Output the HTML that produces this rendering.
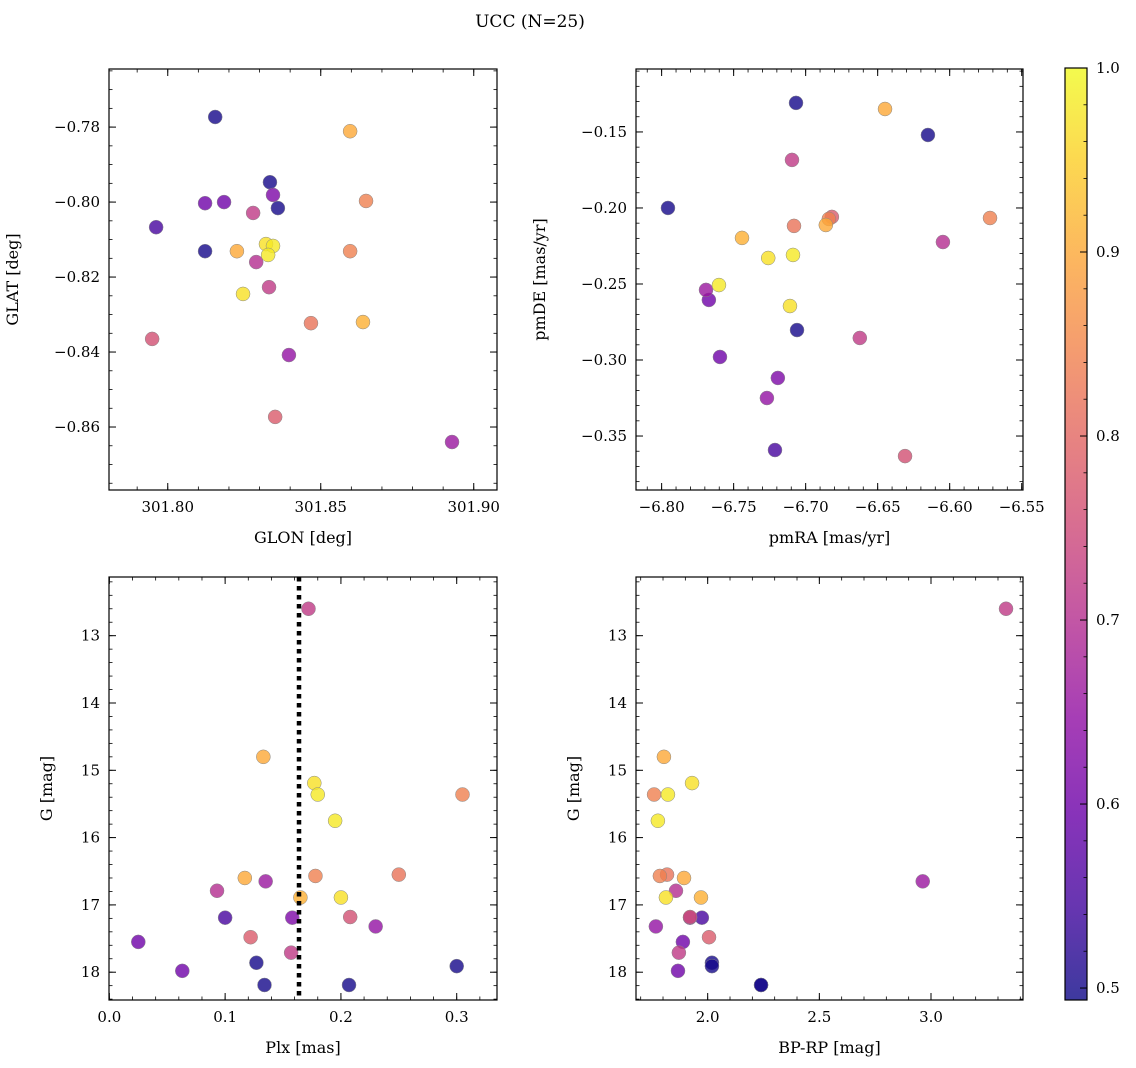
<!DOCTYPE html>
<html><head><meta charset="utf-8">
<style>
html,body{margin:0;padding:0;background:#fff;}
svg{display:block;font-family:"DejaVu Serif","Liberation Serif",serif;}
</style></head>
<body>
<svg id="fig" width="1136" height="1068" viewBox="0 0 1136 1068" xmlns="http://www.w3.org/2000/svg">
<text x="530" y="27" font-size="17" text-anchor="middle">UCC (N=25)</text>
</svg>
<script>
const glon=[301.8155,301.8334,301.8360,301.8122,301.7962,301.8122,301.8184,301.8344,301.8396,301.8929,301.8279,301.8289,301.8331,301.7949,301.8351,301.8648,301.8596,301.8468,301.8596,301.8226,301.8638,301.8321,301.8344,301.8328,301.8246];
const glat=[-0.7773,-0.7947,-0.8016,-0.8131,-0.8067,-0.8003,-0.8000,-0.7981,-0.8408,-0.8640,-0.8029,-0.8160,-0.8227,-0.8365,-0.8573,-0.7997,-0.8131,-0.8323,-0.7811,-0.8131,-0.8320,-0.8112,-0.8117,-0.8141,-0.8245];
const pmra=[-6.7067,-6.6151,-6.7956,-6.7060,-6.7213,-6.7672,-6.7595,-6.7193,-6.7269,-6.7692,-6.7095,-6.6047,-6.6624,-6.6310,-6.6818,-6.6839,-6.5720,-6.7081,-6.6449,-6.6860,-6.7442,-6.7260,-6.7088,-6.7602,-6.7109];
const pmde=[-0.1309,-0.1520,-0.2000,-0.2803,-0.3592,-0.2605,-0.2980,-0.3118,-0.3250,-0.2539,-0.1684,-0.2224,-0.2855,-0.3632,-0.2059,-0.2072,-0.2066,-0.2118,-0.1349,-0.2112,-0.2197,-0.2329,-0.2309,-0.2507,-0.2645];
const plx=[0.127,0.300,0.134,0.207,0.100,0.025,0.063,0.158,0.230,0.135,0.172,0.093,0.157,0.208,0.122,0.305,0.178,0.250,0.133,0.117,0.165,0.177,0.180,0.195,0.200];
const gmag=[17.86,17.91,18.19,18.19,17.19,17.55,17.98,17.19,17.32,16.65,12.60,16.79,17.71,17.18,17.48,15.36,16.57,16.55,14.80,16.60,16.89,15.19,15.36,15.75,16.89];
const bprp=[2.019,2.019,2.239,2.239,1.974,1.889,1.867,1.921,1.768,2.963,3.336,1.858,1.871,1.921,2.006,1.760,1.786,1.818,1.804,1.894,1.970,1.930,1.822,1.777,1.813];
const prob=[0.50,0.50,0.50,0.50,0.55,0.60,0.60,0.62,0.65,0.66,0.72,0.70,0.72,0.76,0.78,0.84,0.84,0.82,0.90,0.90,0.91,0.97,0.98,0.98,0.97];
const plxLine=0.1638;
const cbMin=0.4935, cbMax=1.0;

const NS="http://www.w3.org/2000/svg";
const svg=document.getElementById('fig');
function mk(tag,attrs,parent){const e=document.createElementNS(NS,tag);for(const k in attrs)e.setAttribute(k,attrs[k]);(parent||svg).appendChild(e);return e;}
const stops=[[13,8,135],[65,4,157],[106,0,168],[143,13,164],[177,42,144],[204,71,120],[225,100,98],[242,132,75],[252,166,54],[252,206,37],[240,249,33]];
function plasma(t){t=Math.max(0,Math.min(1,t));const p=t*10,i=Math.min(9,Math.floor(p)),f=p-i;const a=stops[i],b=stops[i+1];
return 'rgb('+a.map((v,k)=>Math.round(v+(b[k]-v)*f)).join(',')+')';}
function cmap(v){return plasma((v-cbMin)/(cbMax-cbMin));}

function fmt(v,d){let s=v.toFixed(d);return s.replace('-','\u2212');}
function panel(o){
  const {x0,y0,x1,y1,xr,yr,xt,yt,xd,yd,xsub,ysub,xl,yl,name,invY}=o;
  const g=mk('g',{});
  
  
  const sx=v=>x0+(v-xr[0])/(xr[1]-xr[0])*(x1-x0);
  const sy=invY?(v=>y0+(v-yr[0])/(yr[1]-yr[0])*(y1-y0)):(v=>y1-(v-yr[0])/(yr[1]-yr[0])*(y1-y0));
  const ticks=(tk,sub,lo,hi)=>{const step=tk[1]-tk[0],ms=step/sub,out=[];for(let v=tk[0]-step;v<=tk[tk.length-1]+step+1e-9;v+=ms){if(v>=Math.min(lo,hi)-1e-9&&v<=Math.max(lo,hi)+1e-9)out.push(v);}return out;};
  ticks(xt,xsub,xr[0],xr[1]).forEach(v=>{const X=sx(v);mk('line',{x1:X,x2:X,y1:y1,y2:y1-3.5,stroke:'#000','stroke-width':0.8},g);mk('line',{x1:X,x2:X,y1:y0,y2:y0+3.5,stroke:'#000','stroke-width':0.8},g);});
  ticks(yt,ysub,yr[0],yr[1]).forEach(v=>{const Y=sy(v);mk('line',{x1:x0,x2:x0+3.5,y1:Y,y2:Y,stroke:'#000','stroke-width':0.8},g);mk('line',{x1:x1,x2:x1-3.5,y1:Y,y2:Y,stroke:'#000','stroke-width':0.8},g);});
  xt.forEach(v=>{const X=sx(v);mk('line',{x1:X,x2:X,y1:y1,y2:y1-7,stroke:'#000','stroke-width':1},g);mk('line',{x1:X,x2:X,y1:y0,y2:y0+7,stroke:'#000','stroke-width':1},g);
    const t=mk('text',{x:X,y:y1+22,'font-size':15,'text-anchor':'middle'},g);t.textContent=fmt(v,xd);
    
    });
  yt.forEach(v=>{const Y=sy(v);mk('line',{x1:x0,x2:x0+7,y1:Y,y2:Y,stroke:'#000','stroke-width':1},g);mk('line',{x1:x1,x2:x1-7,y1:Y,y2:Y,stroke:'#000','stroke-width':1},g);
    const t=mk('text',{x:x0-9,y:Y+5,'font-size':15,'text-anchor':'end'},g);t.textContent=fmt(v,yd);
    
    });
  const xlab=mk('text',{x:(x0+x1)/2,y:y1+53,'font-size':16,'text-anchor':'middle'},g);xlab.textContent=xl;
  
  
  const yx=o.ylx, yy=(y0+y1)/2;
  const ylab=mk('text',{x:yx,y:yy,'font-size':16,'text-anchor':'middle',transform:'rotate(-90 '+yx+' '+yy+')'},g);ylab.textContent=yl;
  
  
  const inner=mk('g',{},g);
  
  
  const idx=prob.map((p,i)=>i).sort((a,b)=>prob[a]-prob[b]);
  if(o.line!==undefined){const L=mk('line',{x1:sx(o.line),x2:sx(o.line),y1:y0,y2:y1,stroke:'#000','stroke-width':4.5,'stroke-dasharray':'4.5 4.5'},g);
    
    }
  idx.forEach(i=>{const c=mk('circle',{cx:sx(o.xs[i]),cy:sy(o.ys[i]),r:7,fill:cmap(prob[i]),'fill-opacity':0.8,stroke:'#888','stroke-width':0.5},inner);
    
    });
  mk('rect',{x:x0,y:y0,width:x1-x0,height:y1-y0,fill:'none',stroke:'#000','stroke-width':1.2},g);
}
panel({name:'glon-glat-panel',x0:109,y0:69,x1:497,y1:490,xr:[301.7808,301.9076],yr:[-0.8768,-0.7645],xt:[301.80,301.85,301.90],yt:[-0.86,-0.84,-0.82,-0.80,-0.78],xd:2,yd:2,xsub:5,ysub:4,xl:'GLON [deg]',yl:'GLAT [deg]',ylx:18,xs:glon,ys:glat});
panel({name:'pm-panel',x0:636,y0:69,x1:1023,y1:490,xr:[-6.8178,-6.5491],yr:[-0.3855,-0.1086],xt:[-6.80,-6.75,-6.70,-6.65,-6.60,-6.55],yt:[-0.35,-0.30,-0.25,-0.20,-0.15],xd:2,yd:2,xsub:5,ysub:5,xl:'pmRA [mas/yr]',yl:'pmDE [mas/yr]',ylx:545,xs:pmra,ys:pmde});
panel({name:'plx-g-panel',x0:109,y0:577,x1:497,y1:1000,xr:[-0.0003,0.3348],yr:[12.128,18.413],xt:[0.0,0.1,0.2,0.3],yt:[13,14,15,16,17,18],xd:1,yd:0,xsub:5,ysub:5,xl:'Plx [mas]',yl:'G [mag]',ylx:52,xs:plx,ys:gmag,invY:true,line:plxLine});
panel({name:'color-mag-panel',x0:636,y0:577,x1:1023,y1:1000,xr:[1.679,3.412],yr:[12.128,18.413],xt:[2.0,2.5,3.0],yt:[13,14,15,16,17,18],xd:1,yd:0,xsub:5,ysub:5,xl:'BP-RP [mag]',yl:'G [mag]',ylx:579,xs:bprp,ys:gmag,invY:true});

// colorbar
const cb=mk('g',{});


const cx0=1065,cx1=1087,cy0=68,cy1=1000;
const defs=mk('defs',{},cb);const lg=mk('linearGradient',{id:'cbg',x1:0,y1:1,x2:0,y2:0},defs);
for(let k=0;k<=20;k++){mk('stop',{offset:k/20,'stop-color':plasma(k/20),'stop-opacity':0.8},lg);}
mk('rect',{x:cx0,y:cy0,width:cx1-cx0,height:cy1-cy0,fill:'url(#cbg)',stroke:'#000','stroke-width':1.2},cb);
const cy=v=>cy1-(v-cbMin)/(cbMax-cbMin)*(cy1-cy0);
for(let v=0.50;v<=1.0001;v+=0.02){mk('line',{x1:cx1,x2:cx1-3.5,y1:cy(v),y2:cy(v),stroke:'#000','stroke-width':0.8},cb);}
[0.5,0.6,0.7,0.8,0.9,1.0].forEach(v=>{mk('line',{x1:cx1,x2:cx1-7,y1:cy(v),y2:cy(v),stroke:'#000','stroke-width':1},cb);
  const t=mk('text',{x:cx1+9,y:cy(v)+5,'font-size':15},cb);t.textContent=v.toFixed(1);
  
  });
</script>
</body></html>
